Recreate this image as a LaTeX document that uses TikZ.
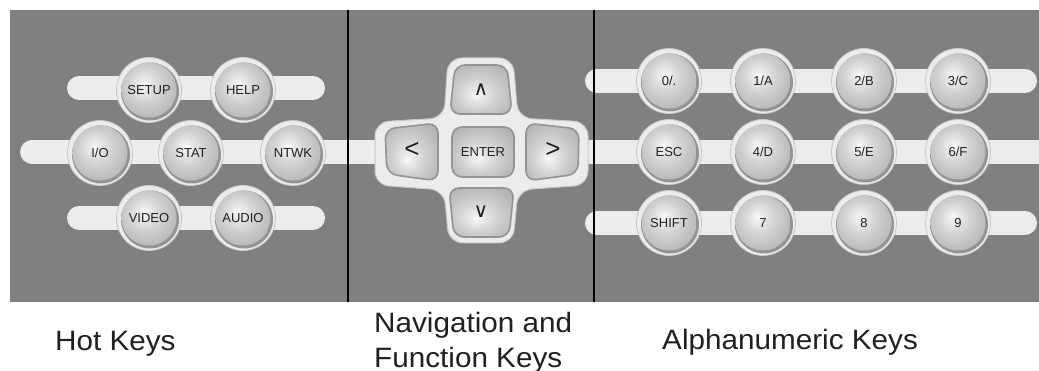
\documentclass[tikz,border=0pt]{standalone}
\usepackage{fontspec}
\setmainfont{Liberation Sans}
\newfontfamily\labelfont[FakeStretch=1.06]{Liberation Sans}
\newfontfamily\symfont{DejaVu Sans}
\definecolor{panelbg}{RGB}{128,128,128}
\definecolor{barcol}{RGB}{236,236,236}
\definecolor{haloedge}{RGB}{200,200,200}
\definecolor{rimcol}{RGB}{148,148,148}
\definecolor{keylight}{RGB}{242,242,242}
\definecolor{keymid}{RGB}{210,210,210}
\definecolor{keyedge}{RGB}{176,176,176}
\definecolor{inkcol}{RGB}{35,31,32}
\pgfdeclareradialshading{btnshade}{\pgfpoint{-5bp}{6bp}}{color(0bp)=(white); color(2bp)=(keylight); color(15bp)=(keymid); color(34bp)=(keyedge); color(60bp)=(keyedge)}
\pgfdeclareradialshading{navshade}{\pgfpoint{-4bp}{-6bp}}{color(0bp)=(white); color(2bp)=(keylight); color(15bp)=(keymid); color(34bp)=(keyedge); color(60bp)=(keyedge)}
\begin{document}
\begin{tikzpicture}[x=1pt,y=-1pt,
  barstyle/.style={line width=24pt, line cap=round, draw=barcol},
  halonode/.style={circle, fill=barcol, draw=haloedge, line width=0.8pt, minimum size=65pt, inner sep=0pt},
  rimnode/.style={circle, fill=rimcol, minimum size=58pt, inner sep=0pt},
  capnode/.style={circle, shading=btnshade, minimum size=55pt, inner sep=0pt, font=\fontsize{13}{13}\selectfont, text=inkcol},
  navkey/.style={shading=navshade, draw=rimcol, line width=1.6pt, rounded corners=10pt},
  navtext/.style={text=inkcol, inner sep=0pt},
  biglabel/.style={font=\labelfont\fontsize{28}{34}\selectfont, text=inkcol, inner sep=0pt},
  divider/.style={draw=black, line width=2pt}
]
\useasboundingbox (0,0) rectangle (1039,371);
\fill[white] (0,0) rectangle (1039,371);
\fill[panelbg] (10,10) rectangle (1039,302);

% bars
\draw[barstyle] (79,88) -- (313,88);
\draw[barstyle] (79,218) -- (313,218);
\draw[barstyle, line cap=butt] (32,152) -- (1039,152);
\fill[barcol] (32,152) circle (12pt);
\draw[barstyle] (597,81) -- (1025,81);
\draw[barstyle] (597,223) -- (1025,223);

% round keys
\foreach \x/\y/\t/\n in {149/90/{SETUP}/setup, 243/90/{HELP}/help,
    100/153/{I/O}/io, 191/153/{STAT}/stat, 293/153/{NTWK}/ntwk,
    149/218/{VIDEO}/video, 243/218/{AUDIO}/audio,
    669/81/{0/.}/zero, 763/81/{1/A}/one, 864/81/{2/B}/two, 958/81/{3/C}/three,
    669/152/{ESC}/esc, 763/152/{4/D}/four, 864/152/{5/E}/five, 958/152/{6/F}/six,
    669/223/{SHIFT}/shift, 763/223/{7}/seven, 864/223/{8}/eight, 958/223/{9}/nine}{
  \node[halonode] (halo-\n) at (\x,\y) {};
  \node[rimnode] (rim-\n) at (\x+1,\y+1.5) {};
  \node[capnode] (key-\n) at (\x,\y) {\t};
}

% navigation cross
\filldraw[fill=barcol, draw=haloedge, line width=1pt, rounded corners=14pt]
  (480,58) -- (513,58) -- (518,118) -- (588,122) -- (588,185) -- (518,190)
  -- (513,243) -- (449,243) -- (444,190) -- (375,185) -- (375,122)
  -- (444,118) -- (448,58) -- cycle;
\path[navkey] (455,65) -- (507,65) -- (512,114) -- (450,114) -- cycle;
\path[navkey] (452,127) -- (514,127) -- (514,177) -- (452,177) -- cycle;
\path[navkey] (385,129) -- (438,123) -- (438,181) -- (387,174) -- cycle;
\path[navkey] (526,123) -- (579,129) -- (578,174) -- (526,181) -- cycle;
\path[navkey] (449,188) -- (514,188) -- (509,237) -- (454,237) -- cycle;
\node[navtext, font=\symfont\fontsize{20}{20}\selectfont] (up) at (481,90) {∧};
\node[navtext, font=\fontsize{13}{13}\selectfont] (enter) at (483,152) {ENTER};
\node[navtext, font=\fontsize{26}{26}\selectfont] (left) at (412,150) {<};
\node[navtext, font=\fontsize{26}{26}\selectfont] (right) at (553,150) {>};
\node[navtext, font=\symfont\fontsize{20}{20}\selectfont] (down) at (481,212) {∨};

% dividers
\draw[divider] (348,10) -- (348,302);
\draw[divider] (594,10) -- (594,302);

% captions
\node[biglabel, anchor=base west] (hot) at (55,351) {Hot Keys};
\node[biglabel, anchor=base west] (nav1) at (374,333) {Navigation and};
\node[biglabel, anchor=base west] (nav2) at (374,367) {Function Keys};
\node[biglabel, anchor=base west] (alpha) at (662,349) {Alphanumeric Keys};
\end{tikzpicture}
\end{document}
